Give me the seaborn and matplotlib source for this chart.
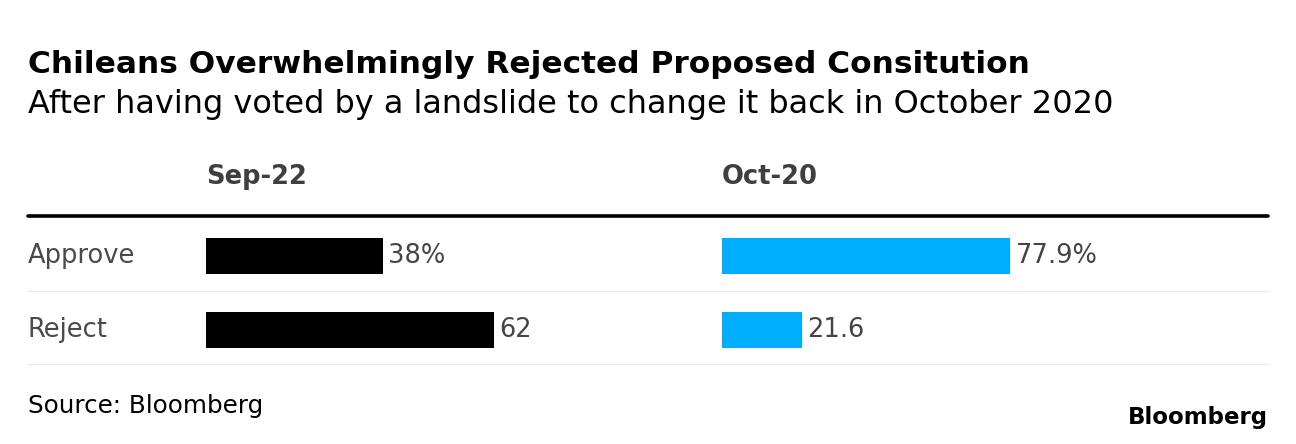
import matplotlib.pyplot as plt
import seaborn as sns

# data
choices = ["Approve", "Reject"]
sep_22 = [38, 62]
oct_20 = [77.9, 21.6]
sep_labels = ["38%", "62"]
oct_labels = ["77.9%", "21.6"]

W, H = 1296, 444
sns.set_theme(style="white")
plt.rcParams["font.family"] = ["DejaVu Sans"]

fig = plt.figure(figsize=(W / 100, H / 100), dpi=100)


def px_box(x0, y0, x1, y1):
    # pixel box (from top-left) -> figure fraction rect
    return [x0 / W, 1 - y1 / H, (x1 - x0) / W, (y1 - y0) / H]


top, bottom = 216, 364
row_gap = 74
ylim = (1 + (bottom - 330) / row_gap, -(256 - top) / row_gap)

# background: rules and row labels
ax_bg = fig.add_axes(px_box(28, top, 1268, bottom))
ax_bg.set_xlim(0, 1)
ax_bg.set_ylim(ylim)
ax_bg.axis("off")
ax_bg.axhline(ylim[1], color="black", lw=2.6, clip_on=False)
for y in [0.47, ylim[0]]:
    ax_bg.axhline(y, color="#ebebeb", lw=0.9, clip_on=False)
for i, c in enumerate(choices):
    ax_bg.text(0, i, c, va="center", ha="left", fontsize=18.5, color="#4a4a4a")


def panel(x0, x1, values, labels, color, header):
    ax = fig.add_axes(px_box(x0, top, x1, bottom))
    sns.barplot(x=values, y=choices, orient="h", color=color, saturation=1,
                width=0.48, linewidth=0, ax=ax)
    ax.set_xlim(0, (x1 - x0) * max(values) / 288)
    ax.set_ylim(ylim)
    ax.bar_label(ax.containers[0], labels=labels, padding=4,
                 fontsize=18.5, color="#444444")
    ax.axis("off")
    ax.text(0, (bottom - 177) / (bottom - top), header, transform=ax.transAxes,
            va="center", ha="left", fontsize=18.5, fontweight="bold", color="#3f3f3f")
    return ax


panel(206, 700, sep_22, sep_labels, "black", "Sep-22")
panel(722, 1268, oct_20, oct_labels, "#00aeff", "Oct-20")

fig.text(28 / W, 1 - 73 / H, "Chileans Overwhelmingly Rejected Proposed Consitution",
         fontsize=22.5, fontweight="bold", color="black", va="baseline")
fig.text(28 / W, 1 - 113 / H, "After having voted by a landslide to change it back in October 2020",
         fontsize=23, color="black", va="baseline")
fig.text(28 / W, 1 - 413 / H, "Source: Bloomberg", fontsize=17.7, color="black", va="baseline")
fig.text(1268 / W, 1 - 424 / H, "Bloomberg", fontsize=16.5, fontweight="bold",
         color="black", va="baseline", ha="right")

fig.savefig("out.png", dpi=100)
